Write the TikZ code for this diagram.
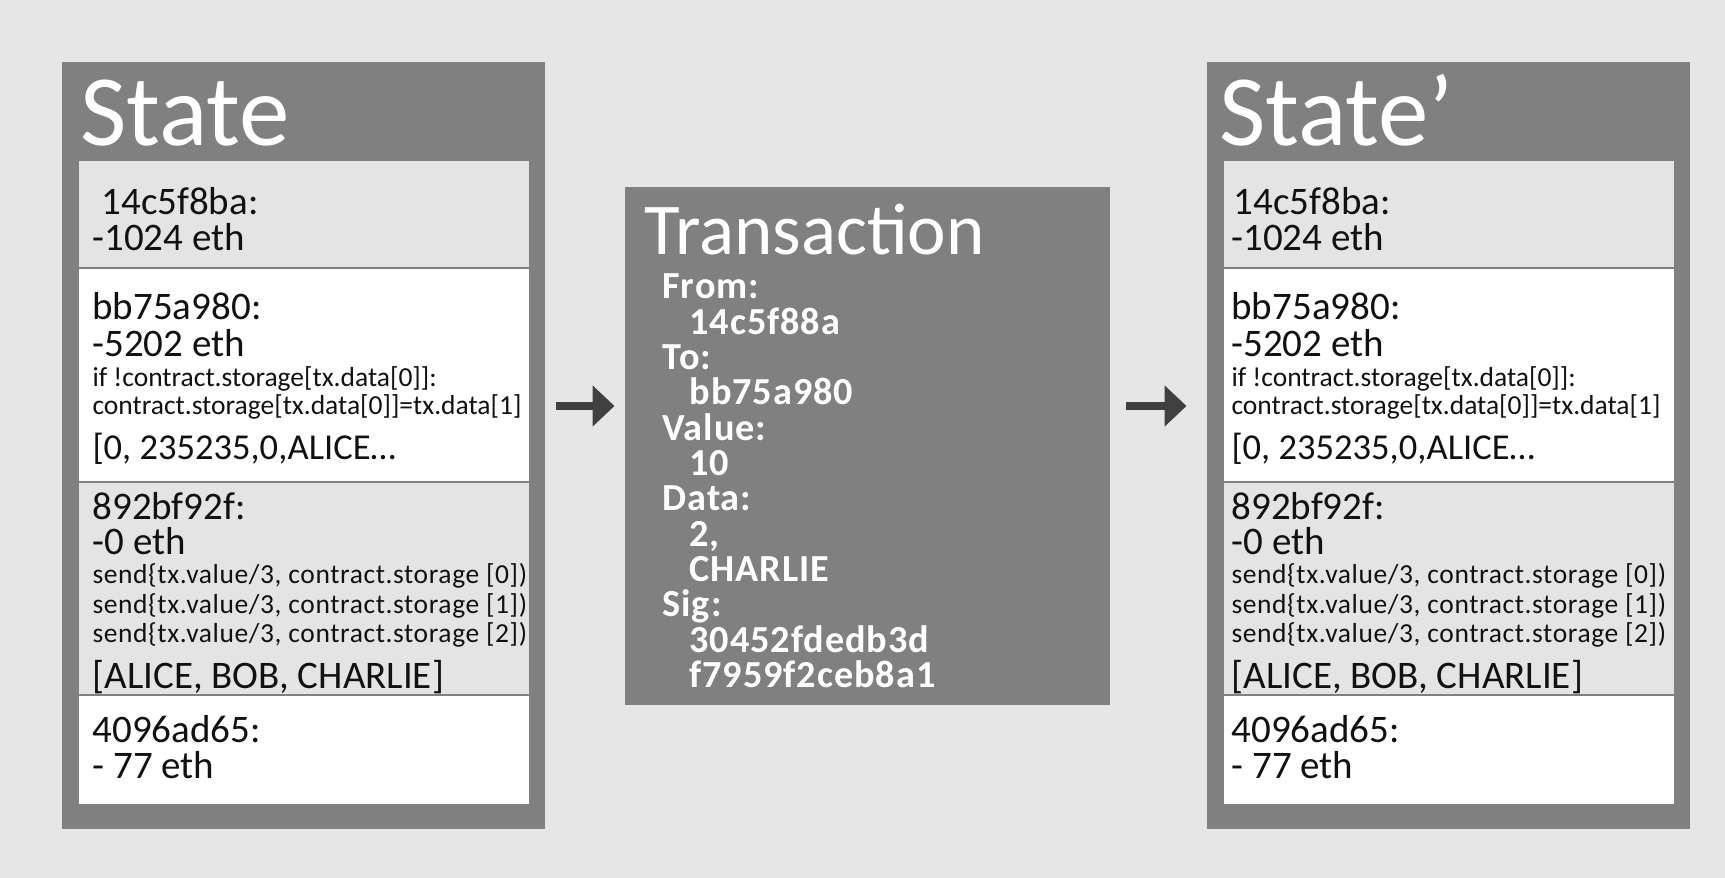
\documentclass[tikz,border=0pt]{standalone}
\usepackage{fontspec}
\setmainfont{Carlito}
\usetikzlibrary{fit,arrows.meta}
\definecolor{bgcol}{HTML}{E6E6E6}
\definecolor{boxgray}{HTML}{808080}
\definecolor{panelgray}{HTML}{E4E4E4}
\definecolor{arrowgray}{HTML}{404040}
\definecolor{inkcol}{HTML}{111111}
\newcommand\SzBig{\fontsize{15.6pt}{18pt}\selectfont}
\newcommand\SzBr{\fontsize{14.6pt}{17pt}\selectfont}
\newcommand\SzSmall{\fontsize{11pt}{13pt}\selectfont}
\newcommand\SzSend{\fontsize{11pt}{13pt}\selectfont\addfontfeature{LetterSpace=2.2}}
\newcommand\SzTitle{\fontsize{40.4pt}{48pt}\selectfont}
\newcommand\SzTxTitle{\fontsize{29.2pt}{35pt}\selectfont}
\newcommand\SzTx{\fontsize{15.3pt}{18pt}\selectfont\bfseries\addfontfeature{LetterSpace=2.5}}
\tikzset{
  outerbox/.style={fill=boxgray, draw=none, inner sep=0pt},
  lightpanel/.style={fill=panelgray, draw=none, inner sep=0pt},
  whitepanel/.style={fill=white, draw=none, inner sep=0pt},
  linetxt/.style={anchor=base west, inner sep=0pt, text=inkcol, font=\SzBig},
  codetxt/.style={linetxt, font=\SzSmall},
  sendtxt/.style={linetxt, font=\SzSend},
  brtxt/.style={linetxt, font=\SzBr},
  titletxt/.style={anchor=base west, inner sep=0pt, text=white, font=\SzTitle},
  txtitle/.style={anchor=base west, inner sep=0pt, text=white, font=\SzTxTitle},
  txtxt/.style={anchor=base west, inner sep=0pt, text=white, font=\SzTx},
  flowarrow/.style={draw=arrowgray, line width=3.2pt, -{Triangle[length=8.8pt,width=16pt]}, arrowgray}
}
% #1 x shift (px), #2 title, #3 name prefix, #4 absolute text x (px), #5 extra indent of first line
\newcommand\StateBox[5]{%
  \node[outerbox, fit={(62+#1,62) (545+#1,829)}] (#3box) {};
  \node[titletxt] (#3title) at (#4-12,146) {#2};
  \node[lightpanel, fit={(79+#1,161) (529+#1,267)}] (#3pa) {};
  \node[whitepanel, fit={(79+#1,269) (529+#1,481)}] (#3pb) {};
  \node[lightpanel, fit={(79+#1,483) (529+#1,694)}] (#3pc) {};
  \node[whitepanel, fit={(79+#1,696) (529+#1,804)}] (#3pd) {};
  \node[linetxt] (#3ta) at (#4+#5,215) {14c5f8ba:};
  \node[linetxt] (#3tb) at (#4,251) {-1024 eth};
  \node[linetxt] (#3tc) at (#4,320) {bb75a980:};
  \node[linetxt] (#3td) at (#4,357) {-5202 eth};
  \node[codetxt] (#3te) at (#4,387) {if !contract.storage[tx.data[0]]:};
  \node[codetxt] (#3tf) at (#4,415) {contract.storage[tx.data[0]]=tx.data[1]};
  \node[brtxt] (#3tg) at (#4,459) {[0, 235235,0,ALICE…};
  \node[linetxt] (#3th) at (#4,520) {892bf92f:};
  \node[linetxt] (#3ti) at (#4,554) {-0 eth};
  \node[sendtxt] (#3tj) at (#4,583) {send\{tx.value/3, contract.storage [0])};
  \node[sendtxt] (#3tk) at (#4,613) {send\{tx.value/3, contract.storage [1])};
  \node[sendtxt] (#3tl) at (#4,642) {send\{tx.value/3, contract.storage [2])};
  \node[linetxt] (#3tm) at (#4,688) {[ALICE, BOB, CHARLIE]};
  \node[linetxt] (#3tn) at (#4,742) {4096ad65:};
  \node[linetxt] (#3to) at (#4,778) {- 77 eth};
}
\begin{document}
\begin{tikzpicture}[x=0.4pt, y=-0.4pt]
  \useasboundingbox (0,0) rectangle (1725,878);
  \fill[bgcol] (0,0) rectangle (1725,878);

  \StateBox{0}{State}{l}{92}{9}
  \StateBox{1145}{State’}{r}{1231}{2}

  % Transaction
  \node[outerbox, fit={(625,187) (1110,705)}] (tx) {};
  \node[txtitle] (txhead) at (644,255) {Transaction};
  \node[txtxt] (txa) at (662,299.0) {From:};
  \node[txtxt] (txb) at (689,334.3) {14c5f88a};
  \node[txtxt] (txc) at (662,369.6) {To:};
  \node[txtxt] (txd) at (689,404.9) {bb75a980};
  \node[txtxt] (txe) at (662,440.2) {Value:};
  \node[txtxt] (txf) at (689,475.5) {10};
  \node[txtxt] (txg) at (662,510.8) {Data:};
  \node[txtxt] (txh) at (689,546.1) {2,};
  \node[txtxt] (txi) at (689,581.4) {CHARLIE};
  \node[txtxt] (txj) at (662,616.7) {Sig:};
  \node[txtxt] (txk) at (689,652.0) {30452fdedb3d};
  \node[txtxt] (txl) at (689,687.3) {f7959f2ceb8a1};

  % arrows
  \coordinate (ay) at (0,406);
  \draw[flowarrow, shorten <=4pt, shorten >=4pt] (lbox.east |- ay) -- (tx.west |- ay);
  \draw[flowarrow, shorten <=6pt, shorten >=8pt] (tx.east |- ay) -- (rbox.west |- ay);
\end{tikzpicture}
\end{document}
